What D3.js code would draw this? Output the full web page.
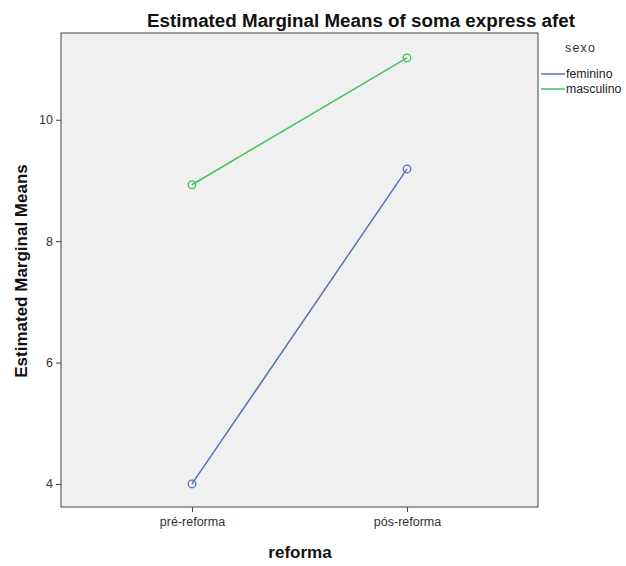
<!DOCTYPE html>
<html><head><meta charset="utf-8">
<script src="https://cdn.jsdelivr.net/npm/d3@7"></script>
<style>body{margin:0;background:#fff;}svg{display:block;font-family:"Liberation Sans",Arial,sans-serif;}</style>
</head><body>
<script>
const categories = ["pré-reforma", "pós-reforma"];
const seriesNames = ["feminino", "masculino"];
const feminino = [4.0, 9.19];
const masculino = [8.93, 11.02];
const yTicks = [4, 6, 8, 10];
const colors = ["#5a6ec2", "#45c05a"];

const W = 626, H = 566;
const m = {left: 61, top: 33, right: 538, bottom: 507};
const svg = d3.select("body").append("svg").attr("width", W).attr("height", H);

const x = d3.scalePoint().domain(categories).range([m.left, m.right]).padding(0.609);
const y = d3.scaleLinear().domain([3.62, 11.43]).range([m.bottom, m.top]);

svg.append("rect").attr("x", m.left).attr("y", m.top).attr("width", m.right - m.left).attr("height", m.bottom - m.top)
  .attr("fill", "#f0f0f0").attr("stroke", "#444").attr("stroke-width", 1);

const yAxis = svg.append("g").attr("transform", `translate(${m.left},0)`)
  .call(d3.axisLeft(y).tickValues(yTicks).tickSize(5).tickSizeOuter(0).tickFormat(d3.format("d")));
yAxis.select(".domain").remove();
yAxis.selectAll("line").attr("stroke", "#444");
yAxis.selectAll("text").attr("font-size", 12.5).attr("fill", "#333").attr("font-family", "Liberation Sans, Arial, sans-serif");

const xAxis = svg.append("g").attr("transform", `translate(0,${m.bottom})`)
  .call(d3.axisBottom(x).tickSize(5).tickSizeOuter(0));
xAxis.select(".domain").remove();
xAxis.selectAll("line").attr("stroke", "#444");
xAxis.selectAll("text").attr("font-size", 12.5).attr("fill", "#333").attr("dy", "0.9em").attr("font-family", "Liberation Sans, Arial, sans-serif");

const series = [feminino, masculino];
const line = d3.line().x((d, i) => x(categories[i])).y(d => y(d));
series.forEach((s, k) => {
  svg.append("path").datum(s).attr("d", line).attr("fill", "none").attr("stroke", colors[k]).attr("stroke-width", 1.5);
  svg.selectAll(null).data(s).enter().append("circle")
    .attr("cx", (d, i) => x(categories[i])).attr("cy", d => y(d)).attr("r", 3.8)
    .attr("fill", "none").attr("stroke", colors[k]).attr("stroke-width", 1.3);
});

svg.append("text").attr("x", 361).attr("y", 27).attr("text-anchor", "middle")
  .attr("font-size", 18.8).attr("font-weight", "bold").attr("fill", "#111").text("Estimated Marginal Means of soma express afet");
svg.append("text").attr("transform", `translate(27,271) rotate(-90)`).attr("text-anchor", "middle")
  .attr("font-size", 17).attr("font-weight", "bold").attr("fill", "#111").text("Estimated Marginal Means");
svg.append("text").attr("x", 300).attr("y", 558).attr("text-anchor", "middle")
  .attr("font-size", 17).attr("font-weight", "bold").attr("fill", "#111").text("reforma");

const lg = svg.append("g");
lg.append("text").attr("x", 565).attr("y", 52).attr("font-size", 12.5).attr("fill", "#333").attr("letter-spacing", 1.2).text("sexo");
seriesNames.forEach((n, k) => {
  const yy = 74 + k * 15;
  lg.append("line").attr("x1", 541).attr("x2", 565).attr("y1", yy).attr("y2", yy).attr("stroke", colors[k]).attr("stroke-width", 1.5);
  lg.append("text").attr("x", 566).attr("y", yy + 4).attr("font-size", 12.3).attr("fill", "#222").text(n);
});
</script>
</body></html>
